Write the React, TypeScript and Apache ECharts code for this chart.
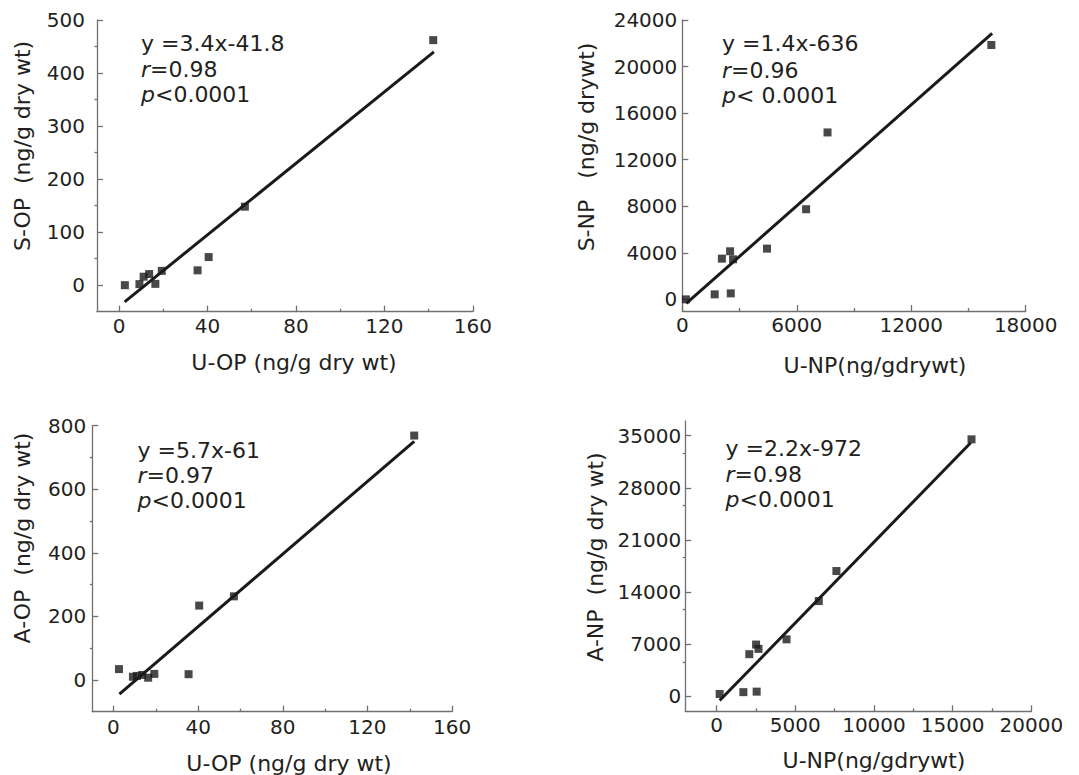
import React, { useEffect, useRef } from "react";
import * as echarts from "echarts";

// ---- data ----
const uOP = [2.6, 9.2, 11.1, 13.6, 16.4, 19.3, 35.5, 40.5, 56.9, 142.1];
const sOP = [0, 2, 16, 21, 2.5, 27, 28, 53, 148, 462];
const aOP = [34, 10, 12.6, 15.7, 7, 19, 18, 234, 263, 769];

const uNP = [190, 1698, 2075, 2505, 2660, 2542, 4440, 6490, 7612, 16200];
const sNP = [0, 430, 3500, 4130, 3440, 516, 4360, 7742, 14340, 21850];
const aNP = [320, 570, 5670, 6960, 6380, 640, 7660, 12800, 16830, 34510];

// fitted regression line end points
const fitSOPx = [2.5, 142.4];
const fitSOPy = [-31.4, 440];
const fitSNPx = [210, 16240];
const fitSNPy = [-350, 22860];
const fitAOPx = [2.8, 142.1];
const fitAOPy = [-45, 751];
const fitANPx = [190, 16150];
const fitANPy = [-560, 34060];

// tick values
const opTicks = [0, 40, 80, 120, 160];
const opMinor = [20, 60, 100, 140];
const sopTicks = [0, 100, 200, 300, 400, 500];
const sopMinor = [50, 150, 250, 350, 450];
const npTicksTop = [0, 6000, 12000, 18000];
const npMinorTop = [3000, 9000, 15000];
const snpTicks = [0, 4000, 8000, 12000, 16000, 20000, 24000];
const aopTicks = [0, 200, 400, 600, 800];
const aopMinor = [100, 300, 500, 700];
const npTicksBottom = [0, 5000, 10000, 15000, 20000];
const npMinorBottom = [2500, 7500, 12500, 17500];
const anpTicks = [0, 7000, 14000, 21000, 28000, 35000];
const anpMinor = [4650, 11650, 18650, 25650, 32650];

// texts
const eq = ["y =3.4x-41.8", "y =1.4x-636", "y =5.7x-61", "y =2.2x-972"];
const rText = ["0.98", "0.96", "0.97", "0.98"];
const pText = ["<0.0001", "< 0.0001", "<0.0001", "<0.0001"];
const xNames = ["U-OP (ng/g dry wt)", "U-NP(ng/gdrywt)", "U-OP (ng/g dry wt)", "U-NP(ng/gdrywt)"];
const yNames = ["S-OP  (ng/g dry wt)", "S-NP   (ng/g drywt)", "A-OP  (ng/g dry wt)", "A-NP  (ng/g dry wt)"];

const FONT = "DejaVu Sans";
const TEXT = "#231f20";
const AXIS = "#707070";
const MARK = "#1a1a1a";

type Panel = {
  grid: { left: number; top: number; width: number; height: number };
  xMin: number; xMax: number; yMin: number; yMax: number;
  xTicks: number[]; xMinor: number[]; yTicks: number[]; yMinor: number[];
  xMargin: number; yMargin: number;
  xs: number[]; ys: number[]; fx: number[]; fy: number[];
  ann: { x: number; y: number[] };
  xName: { x: number; y: number };
  yName: { x: number; y: number };
};

const panels: Panel[] = [
  {
    grid: { left: 97, top: 20, width: 375.8, height: 291.7 },
    xMin: -10, xMax: 160, yMin: -50, yMax: 500,
    xTicks: opTicks, xMinor: opMinor, yTicks: sopTicks, yMinor: sopMinor,
    xMargin: 4, yMargin: 12,
    xs: uOP, ys: sOP, fx: fitSOPx, fy: fitSOPy,
    ann: { x: 141, y: [43, 69.5, 94] },
    xName: { x: 294, y: 362 },
    yName: { x: 22.5, y: 146 },
  },
  {
    grid: { left: 682.3, top: 20, width: 343.4, height: 291 },
    xMin: 0, xMax: 18000, yMin: -1000, yMax: 24000,
    xTicks: npTicksTop, xMinor: npMinorTop, yTicks: snpTicks, yMinor: [],
    xMargin: 4, yMargin: 5,
    xs: uNP, ys: sNP, fx: fitSNPx, fy: fitSNPy,
    ann: { x: 722, y: [43.5, 70, 95] },
    xName: { x: 875, y: 365 },
    yName: { x: 586.5, y: 147 },
  },
  {
    grid: { left: 92.3, top: 425.7, width: 359.8, height: 286 },
    xMin: -10, xMax: 160, yMin: -100, yMax: 800,
    xTicks: opTicks, xMinor: opMinor, yTicks: aopTicks, yMinor: aopMinor,
    xMargin: 5, yMargin: 6,
    xs: uOP, ys: aOP, fx: fitAOPx, fy: fitAOPy,
    ann: { x: 137.5, y: [450.7, 475, 500] },
    xName: { x: 289, y: 763 },
    yName: { x: 22.5, y: 538 },
  },
  {
    grid: { left: 685.2, top: 420.8, width: 346.1, height: 290.5 },
    xMin: -2000, xMax: 20000, yMin: -2000, yMax: 37000,
    xTicks: npTicksBottom, xMinor: npMinorBottom, yTicks: anpTicks, yMinor: anpMinor,
    xMargin: 4, yMargin: 4,
    xs: uNP, ys: aNP, fx: fitANPx, fy: fitANPy,
    ann: { x: 725.5, y: [448.3, 474, 499] },
    xName: { x: 874, y: 760 },
    yName: { x: 595, y: 557 },
  },
];

function buildOption() {
  const lineStyle = { color: AXIS, width: 1.3 };
  const labelStyle = {
    color: TEXT, fontFamily: FONT, fontSize: 20,
    formatter: (v: number) => String(v),
  };
  const grids: any[] = [];
  const xAxes: any[] = [];
  const yAxes: any[] = [];
  const series: any[] = [];
  const graphics: any[] = [];

  panels.forEach((p, gi) => {
    grids.push({ ...p.grid, containLabel: false, outerBoundsMode: "none" });

    const xi = xAxes.length;
    xAxes.push({
      type: "value", gridIndex: gi, min: p.xMin, max: p.xMax, position: "bottom",
      axisLine: { show: true, onZero: false, lineStyle },
      axisTick: { show: true, inside: true, length: 6, customValues: p.xTicks, lineStyle },
      axisLabel: { show: true, customValues: p.xTicks, margin: p.xMargin, ...labelStyle },
      splitLine: { show: false },
    });
    if (p.xMinor.length) {
      xAxes.push({
        type: "value", gridIndex: gi, min: p.xMin, max: p.xMax, position: "bottom", offset: 0,
        axisLine: { show: false, onZero: false },
        axisTick: { show: true, inside: true, length: 3, customValues: p.xMinor, lineStyle },
        axisLabel: { show: false },
        splitLine: { show: false },
      });
    }
    const yi = yAxes.length;
    yAxes.push({
      type: "value", gridIndex: gi, min: p.yMin, max: p.yMax, position: "left",
      axisLine: { show: true, onZero: false, lineStyle },
      axisTick: { show: true, inside: true, length: 6, customValues: p.yTicks, lineStyle },
      axisLabel: { show: true, customValues: p.yTicks, margin: p.yMargin, ...labelStyle },
      splitLine: { show: false },
    });
    if (p.yMinor.length) {
      yAxes.push({
        type: "value", gridIndex: gi, min: p.yMin, max: p.yMax, position: "left", offset: 0,
        axisLine: { show: false, onZero: false },
        axisTick: { show: true, inside: false, length: 2.5, customValues: p.yMinor, lineStyle },
        axisLabel: { show: false },
        splitLine: { show: false },
      });
    }

    series.push({
      type: "line", xAxisIndex: xi, yAxisIndex: yi,
      data: p.fx.map((x, i) => [x, p.fy[i]]),
      symbol: "none", showSymbol: false, silent: true, z: 2,
      lineStyle: { color: MARK, width: 3 },
    });
    series.push({
      type: "scatter", xAxisIndex: xi, yAxisIndex: yi,
      data: p.xs.map((x, i) => [x, p.ys[i]]),
      symbol: "rect", symbolSize: 8, silent: true, z: 3,
      itemStyle: { color: MARK },
    });

    const annBase = { fontFamily: FONT, fontSize: 22, fill: TEXT, align: "left", verticalAlign: "middle", textAlign: "left", textVerticalAlign: "middle" };
    const rich = { i: { fontStyle: "italic", fontFamily: FONT, fontSize: 22, fill: TEXT } };
    graphics.push({ type: "text", x: p.ann.x, y: p.ann.y[0], silent: true, style: { ...annBase, text: eq[gi] } });
    graphics.push({ type: "text", x: p.ann.x, y: p.ann.y[1], silent: true, style: { ...annBase, text: `{i|r}=${rText[gi]}`, rich } });
    graphics.push({ type: "text", x: p.ann.x, y: p.ann.y[2], silent: true, style: { ...annBase, text: `{i|p}${pText[gi]}`, rich } });

    const nameBase = { fontFamily: FONT, fontSize: 22, fill: TEXT, align: "center", verticalAlign: "middle", textAlign: "center", textVerticalAlign: "middle" };
    graphics.push({ type: "text", x: p.xName.x, y: p.xName.y, silent: true, style: { ...nameBase, text: xNames[gi] } });
    graphics.push({ type: "text", x: p.yName.x, y: p.yName.y, rotation: Math.PI / 2, silent: true, style: { ...nameBase, text: yNames[gi] } });
  });

  return {
    animation: false,
    backgroundColor: "#ffffff",
    grid: grids,
    xAxis: xAxes,
    yAxis: yAxes,
    series,
    graphic: graphics,
  };
}

export default function App() {
  const ref = useRef<HTMLDivElement>(null);
  useEffect(() => {
    if (!ref.current) return;
    const chart = echarts.init(ref.current, null, { renderer: "svg" });
    chart.setOption(buildOption() as any);
    return () => chart.dispose();
  }, []);
  return (
    <div
      ref={ref}
      style={{ position: "fixed", left: 0, top: 0, width: 1079, height: 775, background: "#fff" }}
    />
  );
}
